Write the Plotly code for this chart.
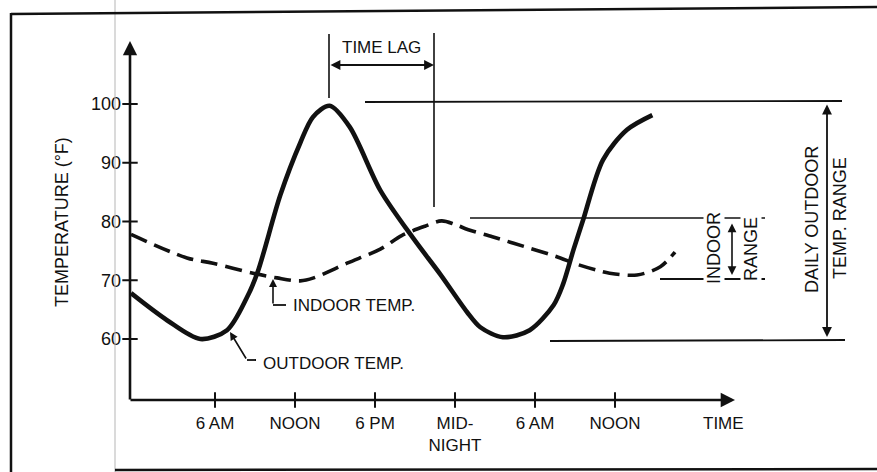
import plotly.graph_objects as go

# ---------------- data ----------------
out_hours = [-0.3, 2.4, 4.9, 6.9, 8.4, 9.2, 10.9, 12.4, 13.35, 14.6, 16.1, 18.4,
             20.85, 22.9, 24.9, 25.9, 27.6, 29.6, 31.4, 32.1, 32.9, 33.6, 35.1, 36.9, 38.8]
out_temp = [67.8, 63.2, 60.0, 61.5, 67.1, 71.4, 84.5, 93.4, 97.8, 99.7, 96.1, 85.3,
            77.2, 71.0, 64.6, 62.0, 60.3, 61.5, 65.8, 69.3, 75.3, 80.2, 90.5, 95.6, 98.1]

in_hours = [-0.3, 3.9, 5.85, 8.85, 10.65, 12.4, 13.4, 15.9, 18.4, 20.0, 21.75, 23.0,
            24.0, 25.0, 26.8, 28.4, 31.9, 32.9, 34.65, 35.6, 37.65, 39.4, 40.5]
in_temp = [77.8, 73.8, 72.9, 71.2, 70.4, 69.9, 70.4, 72.9, 75.3, 77.6, 79.2, 80.1,
           79.5, 78.6, 77.4, 76.3, 73.8, 72.9, 71.7, 71.2, 70.9, 72.3, 74.8]

x_tickvals = [6, 12, 18, 24, 30, 36]
x_ticktext = ["6 AM", "NOON", "6 PM", "MID-<br>NIGHT", "6 AM", "NOON"]
y_tickvals = [60, 70, 80, 90, 100]
y_ticktext = ["60", "70", "80", "90", "100"]

# ---------------- layout geometry ----------------
W, H = 877, 472
PL, PR, PT, PB = 130, 733, 43, 400          # plot area in pixels
X0, X1 = -0.375, 44.85                      # hours at axis ends
Y0, Y1 = 60 - (PB - 339) / 5.875, 100 + (104 - PT) / 5.875

def fx(p):
    return (p - PL) / (PR - PL)

def fy(p):
    return (PB - p) / (PB - PT)

INK = "#111111"
FONT = "Liberation Sans, Arial, sans-serif"

fig = go.Figure()

fig.add_trace(go.Scatter(
    x=in_hours, y=in_temp, mode="lines",
    line=dict(color=INK, width=3.6, dash="17px,8px", shape="spline", smoothing=0.9),
    hoverinfo="skip", showlegend=False, cliponaxis=False))
fig.add_trace(go.Scatter(
    x=out_hours, y=out_temp, mode="lines",
    line=dict(color=INK, width=4.6, shape="spline", smoothing=0.85),
    hoverinfo="skip", showlegend=False, cliponaxis=False))

# crossing tick marks
fig.add_trace(go.Scatter(
    x=x_tickvals, y=[Y0] * len(x_tickvals), mode="markers",
    marker=dict(symbol="line-ns", size=11, line=dict(color=INK, width=2)),
    hoverinfo="skip", showlegend=False, cliponaxis=False))
fig.add_trace(go.Scatter(
    x=[X0] * len(y_tickvals), y=y_tickvals, mode="markers",
    marker=dict(symbol="line-ew", size=11, line=dict(color=INK, width=2)),
    hoverinfo="skip", showlegend=False, cliponaxis=False))

shapes = []

def seg(x0, y0, x1, y1, w=2, color=INK):
    shapes.append(dict(type="line", xref="paper", yref="paper",
                       x0=fx(x0), y0=fy(y0), x1=fx(x1), y1=fy(y1),
                       line=dict(color=color, width=w)))

# scanned page frame and fold line
seg(115, 0, 115, 472, w=1, color="#b5b5b5")
seg(11, 13, 11, 472, w=2.5)
seg(11, 14, 877, 7, w=2.5)
seg(115, 470, 877, 469, w=2.5)

# time lag verticals
seg(329, 34, 329, 98, w=1.6)
seg(434, 33, 434, 207, w=1.6)

# range reference lines
seg(365, 102, 842, 101, w=1.8)
seg(470, 218, 765, 218, w=1.6)
seg(660, 279, 765, 279, w=1.8)
seg(550, 341, 845, 340, w=1.8)

# leader lines
seg(273, 305, 286, 305, w=1.8)
seg(247, 360, 256, 360, w=1.8)

annotations = []

def arrow(tipx, tipy, tailx, taily, w=2.5, head=2, size=1.0, both=False):
    annotations.append(dict(
        xref="paper", yref="paper", x=fx(tipx), y=fy(tipy), text="",
        showarrow=True, ax=tailx - tipx, ay=taily - tipy, axref="pixel", ayref="pixel",
        arrowhead=head, arrowsize=size, arrowwidth=w, arrowcolor=INK,
        startarrowhead=head, startarrowsize=size,
        arrowside="end+start" if both else "end", standoff=0, startstandoff=0))

# axes with arrowheads
arrow(PL, PT - 2, PL, PB + 1, w=2.6, head=2, size=1.1)
arrow(PR + 2, PB, PL - 1, PB, w=2.6, head=2, size=1.1)

# dimension arrows
arrow(434, 65, 329, 65, w=1.8, head=2, size=1.1, both=True)
arrow(732, 275, 732, 222, w=1.6, head=2, size=1.1, both=True)
arrow(827, 337, 827, 103, w=1.8, head=2, size=1.1, both=True)

# leader arrows
arrow(273, 279, 273, 305, w=1.6, head=2, size=1.0)
arrow(230, 332, 247, 360, w=1.6, head=2, size=1.0)

def label(text, x, y, size=17, angle=0, xanchor="center", bg=None):
    d = dict(xref="paper", yref="paper", x=fx(x), y=fy(y), text=text, showarrow=False,
             textangle=angle, xanchor=xanchor, yanchor="middle",
             font=dict(family=FONT, size=size, color=INK))
    if bg:
        d.update(bgcolor=bg, borderpad=0)
    annotations.append(d)

label("TIME LAG", 381, 48)
label("INDOOR TEMP.", 291, 305, xanchor="left")
label("OUTDOOR TEMP.", 261, 363, xanchor="left")
label("INDOOR", 714, 248, size=18, angle=-90, bg="white")
label("RANGE", 751, 249, size=18, angle=-90, bg="white")
label("DAILY OUTDOOR", 812, 220, size=18, angle=-90)
label("TEMP. RANGE", 840, 218, size=18, angle=-90)
label("TIME", 723, 423)
label("TEMPERATURE (°F)", 62, 222, size=18, angle=-90)

fig.update_layout(
    width=W, height=H,
    margin=dict(l=PL, r=W - PR, t=PT, b=H - PB),
    paper_bgcolor="white", plot_bgcolor="white",
    shapes=shapes, annotations=annotations,
    showlegend=False,
    xaxis=dict(range=[X0, X1], showgrid=False, zeroline=False, showline=False,
               tickmode="array", tickvals=x_tickvals, ticktext=x_ticktext, ticks="",
               ticklabelstandoff=11,
               tickfont=dict(family=FONT, size=17, color=INK), fixedrange=True),
    yaxis=dict(range=[Y0, Y1], showgrid=False, zeroline=False, showline=False,
               tickmode="array", tickvals=y_tickvals, ticktext=y_ticktext, ticks="",
               ticklabelstandoff=8,
               tickfont=dict(family=FONT, size=18, color=INK), fixedrange=True),
)

fig.write_html("out.html", config={"displayModeBar": False},
               post_script="document.body.style.margin='0';document.body.style.overflow='hidden';")
